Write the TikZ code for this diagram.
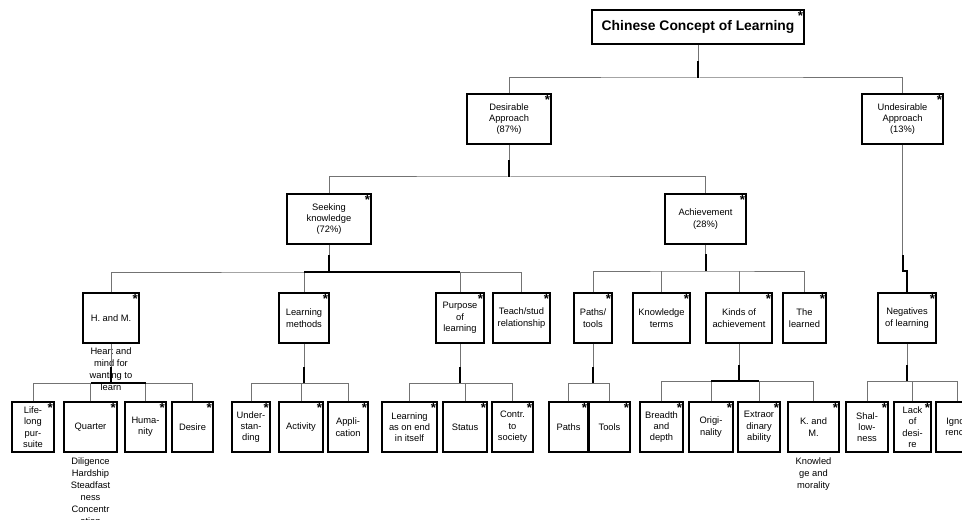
\documentclass[tikz,border=0pt]{standalone}
\usepackage{fontspec}
\setmainfont{Liberation Sans}
\usetikzlibrary{positioning}

\tikzset{
  box/.style={draw, line width=0.8pt, align=center, inner sep=1pt,
    minimum height=50*0.75pt, font=\fontsize{7}{8.5}\selectfont,
    label={[flagmark]north east:*}},
  w/.style={minimum width=#1*0.75pt},
  flagmark/.style={anchor=north east, inner sep=1pt, font=\fontsize{10}{10}\selectfont\bfseries},
  annot/.style={align=center, inner sep=0pt, font=\fontsize{7}{9}\selectfont},
  link/.style={draw=black!55, line width=0.75pt},
  trunk/.style={draw=black, line width=1.5pt},
}

\begin{document}
\begin{tikzpicture}[x=0.75pt, y=-0.75pt]
    \useasboundingbox (0,0) rectangle (962,520);

    % top and second level
    \node[box, w=212, minimum height=34*0.75pt, font=\fontsize{10.4}{12}\selectfont\bfseries] (ccl) at (698,27) {Chinese Concept of Learning};
    \node[box, w=84] (da) at (509,119) {Desirable\\Approach\\(87\%)};
    \node[box, w=81] (ua) at (902.5,119) {Undesirable\\Approach\\(13\%)};

    \node[box, w=84] (sk) at (329,219) {Seeking\\knowledge\\(72\%)};
    \node[box, w=81] (ach) at (705.5,219) {Achievement\\(28\%)};

    % fourth level
    \node[box, w=56] (hm) at (111,318) {H. and M.};
    \node[box, w=50] (lm) at (304,318) {Learning\\methods};
    \node[box, w=48] (pl) at (460,318) {Purpose\\of\\learning};
    \node[box, w=57] (ts) at (521.5,318) {Teach/stud\\relationship};
    \node[box, w=38] (pth) at (593,318) {Paths/\\tools};
    \node[box, w=57] (kt) at (661.5,318) {Knowledge\\terms};
    \node[box, w=66] (ka) at (739,318) {Kinds of\\achievement};
    \node[box, w=43] (tl) at (804.5,318) {The\\learned};
    \node[box, w=58] (nl) at (907,318) {Negatives\\of learning};

    % bottom level
    \node[box, w=42] (ll) at (33,427) {Life-\\long\\pur-\\suite};
    \node[box, w=53] (qu) at (90.5,427) {Quarter};
    \node[box, w=41] (hu) at (145.5,427) {Huma-\\nity};
    \node[box, w=41] (de) at (192.5,427) {Desire};
    \node[box, w=38] (un) at (251,427) {Under-\\stan-\\ding};
    \node[box, w=44] (ac) at (301,427) {Activity};
    \node[box, w=40] (ap) at (348,427) {Appli-\\cation};
    \node[box, w=55] (le) at (409.5,427) {Learning\\as on end\\in itself};
    \node[box, w=44] (sta) at (465,427) {Status};
    \node[box, w=41] (co) at (512.5,427) {Contr.\\to\\society};
    \node[box, w=39] (pa) at (568.5,427) {Paths};
    \node[box, w=41] (tls) at (609.5,427) {Tools};
    \node[box, w=43] (bd) at (661.5,427) {Breadth\\and\\depth};
    \node[box, w=44] (ori) at (711,427) {Origi-\\nality};
    \node[box, w=42] (ex) at (759,427) {Extraor\\dinary\\ability};
    \node[box, w=51] (km) at (813.5,427) {K. and\\M.};
    \node[box, w=42] (sh) at (867,427) {Shal-\\low-\\ness};
    \node[box, w=37] (la) at (912.5,427) {Lack\\of\\desi-\\re};
    \node[box, w=42] (ig) at (957,427) {Igno-\\rence};

    % notes under boxes
    \node[annot, below=3pt of hm] (hmnote) {Heart and\\mind for\\wanting to\\learn};
    \node[annot, below=4pt of qu] (qunote) {Diligence\\Hardship\\Steadfast\\ness\\Concentr\\ation};
    \node[annot, below=4pt of km] (kmnote) {Knowled\\ge and\\morality};

    % bus points
    \coordinate (b1) at (698,78);
    \coordinate (b2) at (509,177);
    \coordinate (b3l) at (329,272);
    \coordinate (b3a) at (705.5,271);
    \coordinate (b3u) at (907,271);
    \coordinate (hm-b) at (111,383);
    \coordinate (lm-b) at (304,383);
    \coordinate (pl-b) at (460,383);
    \coordinate (pth-b) at (593,383);
    \coordinate (ka-b) at (739,381);
    \coordinate (nl-b) at (907,381);

    % connectors
    \draw[link] (ccl.south) -- (b1);
    \draw[link] (da.north) |- (b1) -| (ua.north);
    \draw[trunk] (b1) -- ++(0,-17);

    \draw[link] (da.south) -- (b2);
    \draw[link] (sk.north) |- (b2) -| (ach.north);
    \draw[trunk] (b2) -- ++(0,-17);

    \draw[link] (ua.south) |- (b3u) -- (nl.north);
    \draw[trunk] (ua.south |- b3u) ++(0,-16) -- (ua.south |- b3u) -- (b3u) -- (nl.north);

    \draw[link] (sk.south) -- (b3l);
    \draw[link] (hm.north) |- (b3l) -| (ts.north);
    \draw[link] (lm.north) -- (lm.north |- b3l);
    \draw[link] (pl.north) -- (pl.north |- b3l);
    \draw[trunk] (b3l) -- ++(0,-17);
    \draw[trunk] (lm.north |- b3l) -- (pl.north |- b3l);

    \draw[link] (ach.south) -- (b3a);
    \draw[link] (pth.north) |- (b3a) -| (tl.north);
    \draw[link] (kt.north) -- (kt.north |- b3a);
    \draw[link] (ka.north) -- (ka.north |- b3a);
    \draw[trunk] (b3a) -- ++(0,-17);

    \foreach \up in {hm,lm,pl,pth,ka,nl} {
        \draw[link] (\up.south) -- (\up-b);
        \draw[trunk] (\up-b) -- ++(0,-16);
    }
    \foreach \kid/\up in {ll/hm, qu/hm, hu/hm, de/hm, un/lm, ac/lm, ap/lm,
        le/pl, sta/pl, co/pl, pa/pth, tls/pth, bd/ka, ori/ka, ex/ka, km/ka,
        sh/nl, la/nl, ig/nl}
        \draw[link] (\kid.north) |- (\up-b);
    \draw[link] (ll.north) |- (hm-b) -| (de.north);
    \draw[link] (un.north) |- (lm-b) -| (ap.north);
    \draw[link] (le.north) |- (pl-b) -| (co.north);
    \draw[link] (pa.north) |- (pth-b) -| (tls.north);
    \draw[link] (bd.north) |- (ka-b) -| (km.north);
    \draw[link] (sh.north) |- (nl-b) -| (ig.north);
    \draw[trunk] (qu.north |- hm-b) -- (hu.north |- hm-b);
    \draw[trunk] (ori.north |- ka-b) -- (ex.north |- ka-b);
\end{tikzpicture}
\end{document}
